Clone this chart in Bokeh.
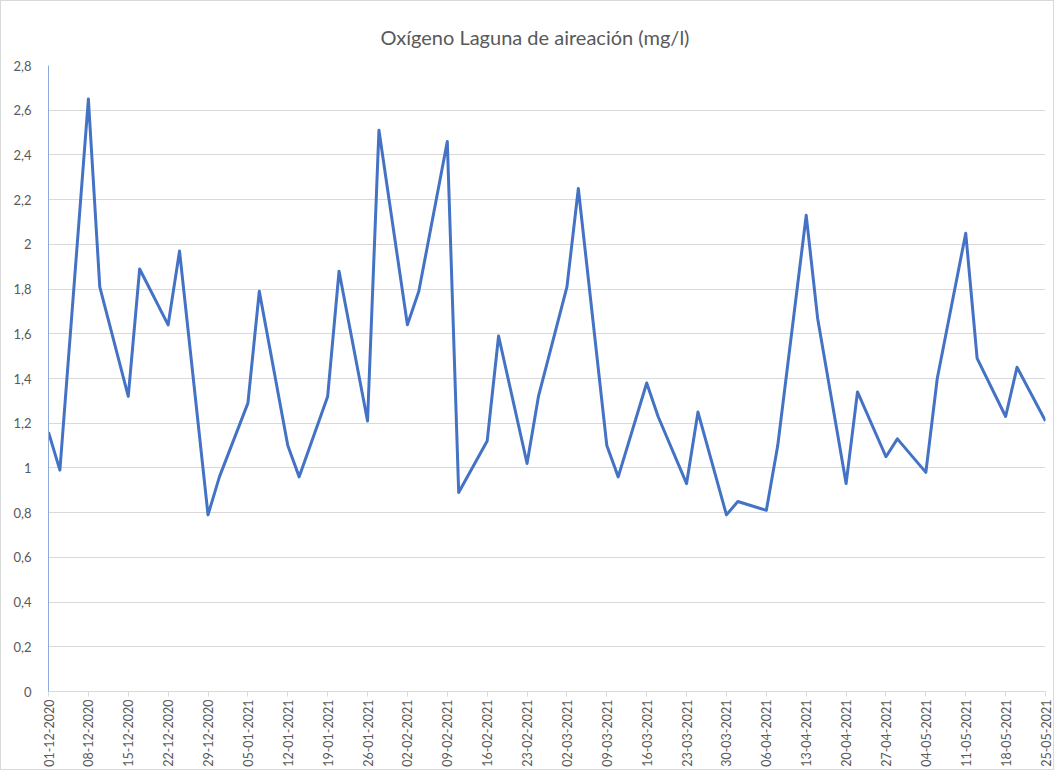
from datetime import datetime
from bokeh.plotting import figure
from bokeh.models import Range1d, FixedTicker, DatetimeTickFormatter, CustomJSTickFormatter, ColumnDataSource, Title
from bokeh.embed import file_html
from bokeh.resources import INLINE
from math import pi

title_text = "Oxígeno Laguna de aireación (mg/l)"

dates = [
    "01-12-2020", "03-12-2020", "08-12-2020", "10-12-2020", "15-12-2020", "17-12-2020",
    "22-12-2020", "24-12-2020", "29-12-2020", "31-12-2020", "05-01-2021", "07-01-2021",
    "12-01-2021", "14-01-2021", "19-01-2021", "21-01-2021", "26-01-2021", "28-01-2021",
    "02-02-2021", "04-02-2021", "09-02-2021", "11-02-2021", "16-02-2021", "18-02-2021",
    "23-02-2021", "25-02-2021", "02-03-2021", "04-03-2021", "09-03-2021", "11-03-2021",
    "16-03-2021", "18-03-2021", "23-03-2021", "25-03-2021", "30-03-2021", "01-04-2021",
    "06-04-2021", "08-04-2021", "13-04-2021", "15-04-2021", "20-04-2021", "22-04-2021",
    "27-04-2021", "29-04-2021", "04-05-2021", "06-05-2021", "11-05-2021", "13-05-2021",
    "18-05-2021", "20-05-2021", "25-05-2021",
]

oxygen = [
    1.16, 0.99, 2.65, 1.81, 1.32, 1.89, 1.64, 1.97, 0.79, 0.96,
    1.29, 1.79, 1.10, 0.96, 1.32, 1.88, 1.21, 2.51, 1.64, 1.79,
    2.46, 0.89, 1.12, 1.59, 1.02, 1.32, 1.81, 2.25, 1.10, 0.96,
    1.38, 1.23, 0.93, 1.25, 0.79, 0.85, 0.81, 1.10, 2.13, 1.67,
    0.93, 1.34, 1.05, 1.13, 0.98, 1.40, 2.05, 1.49, 1.23, 1.45,
    1.21,
]

x_tick_labels = [
    "01-12-2020", "08-12-2020", "15-12-2020", "22-12-2020", "29-12-2020",
    "05-01-2021", "12-01-2021", "19-01-2021", "26-01-2021", "02-02-2021",
    "09-02-2021", "16-02-2021", "23-02-2021", "02-03-2021", "09-03-2021",
    "16-03-2021", "23-03-2021", "30-03-2021", "06-04-2021", "13-04-2021",
    "20-04-2021", "27-04-2021", "04-05-2021", "11-05-2021", "18-05-2021",
    "25-05-2021",
]

y_ticks = [0, 0.2, 0.4, 0.6, 0.8, 1.0, 1.2, 1.4, 1.6, 1.8, 2.0, 2.2, 2.4, 2.6, 2.8]


def parse(s):
    return datetime.strptime(s, "%d-%m-%Y")


def to_ms(d):
    return (d - datetime(1970, 1, 1)).total_seconds() * 1000.0


xs = [parse(d) for d in dates]
src = ColumnDataSource(dict(x=xs, y=oxygen))

FONT = "Lato"
GRAY_TXT = "#595959"

p = figure(
    width=1054, height=770,
    x_axis_type="datetime",
    x_range=Range1d(parse(x_tick_labels[0]), parse(x_tick_labels[-1])),
    y_range=Range1d(0, 2.8),
    output_backend="svg", toolbar_location=None,
    min_border_left=47, min_border_right=10, min_border_top=64, min_border_bottom=80,
)
p.title = Title(text=title_text, align="left", text_font=FONT, text_font_size="20px",
                text_color=GRAY_TXT, text_font_style="normal", standoff=34, offset=332)

p.line("x", "y", source=src, line_color="#4472C4", line_width=3, line_join="round")

# grid
p.xgrid.visible = False
p.ygrid.grid_line_color = "#D9D9D9"
p.ygrid.ticker = FixedTicker(ticks=y_ticks)
p.outline_line_color = None

# x axis
xa = p.xaxis[0]
xa.ticker = FixedTicker(ticks=[to_ms(parse(t)) for t in x_tick_labels])
xa.formatter = DatetimeTickFormatter(days="%d-%m-%Y", months="%d-%m-%Y", years="%d-%m-%Y",
                                     hours="%d-%m-%Y", minutes="%d-%m-%Y")
xa.major_label_orientation = pi / 2
xa.major_label_text_font = FONT
xa.major_label_text_font_size = "12.5px"
xa.major_label_text_color = GRAY_TXT
xa.axis_line_color = "#D9D9D9"
xa.major_tick_line_color = "#D9D9D9"
xa.major_tick_in = 0
xa.major_tick_out = 5
xa.minor_tick_line_color = None
xa.major_label_standoff = 3

# y axis
ya = p.yaxis[0]
ya.ticker = FixedTicker(ticks=y_ticks)
ya.formatter = CustomJSTickFormatter(code="""
    var s = Math.round(tick * 10) / 10;
    return String(s).replace('.', ',');
""")
ya.major_label_text_font = FONT
ya.major_label_text_font_size = "13px"
ya.major_label_text_color = GRAY_TXT
ya.axis_line_color = "#8EA9DB"
ya.axis_line_width = 1
ya.major_tick_line_color = None
ya.minor_tick_line_color = None
ya.major_label_standoff = 11

p.styles = {"border": "1px solid #D9D9D9"}

open("out.html", "w").write(file_html(p, INLINE))
